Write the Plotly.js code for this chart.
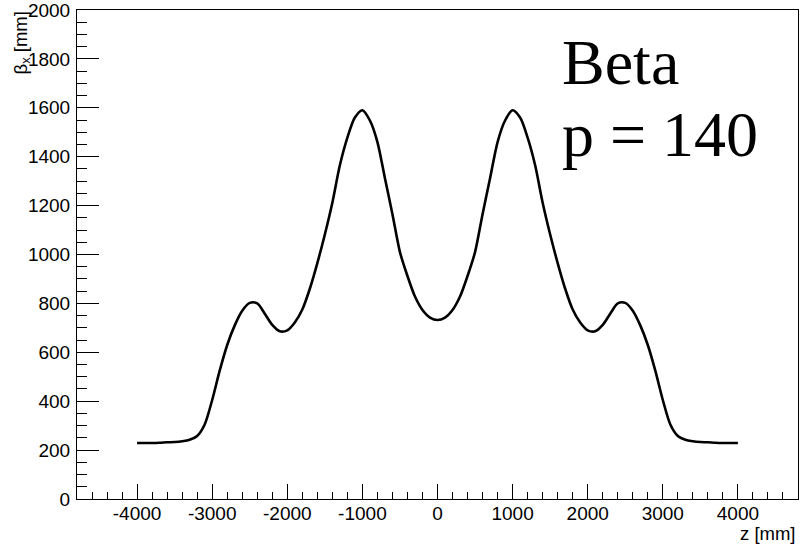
<!DOCTYPE html>
<html>
<head>
<meta charset="utf-8">
<script src="https://cdn.plot.ly/plotly-3.0.1.min.js"></script>
<style>html,body{margin:0;padding:0;background:#fff;}#chart{width:802px;height:546px;}</style>
</head>
<body>
<div id="chart"></div>
<script>
// z positions [mm]
const zValues = [
  -4000,-3900,-3800,-3700,-3600,-3500,-3400,-3300,-3200,-3100,
  -3000,-2900,-2800,-2700,-2600,-2500,-2400,-2300,-2200,-2100,
  -2000,-1900,-1800,-1700,-1600,-1500,-1400,-1300,-1200,-1100,
  -1000,-900,-800,-700,-600,-500,-400,-300,-200,-100,
  0,
  100,200,300,400,500,600,700,800,900,1000,
  1100,1200,1300,1400,1500,1600,1700,1800,1900,2000,
  2100,2200,2300,2400,2500,2600,2700,2800,2900,3000,
  3100,3200,3300,3400,3500,3600,3700,3800,3900,4000
];
// beta_x [mm]
const betaValues = [
  229,229,229,230,232,233,236,242,258,305,
  405,525,630,710,770,802,800,758,712,686,
  690,722,775,860,965,1082,1212,1365,1478,1560,
  1590,1548,1460,1312,1165,1010,912,828,773,742,
  732,
  742,773,828,912,1010,1165,1312,1460,1548,1590,
  1560,1478,1365,1212,1082,965,860,775,722,690,
  686,712,758,800,802,770,710,630,525,405,
  305,258,242,236,233,232,230,229,229,229
];
const xTickVals = [-4000,-3000,-2000,-1000,0,1000,2000,3000,4000];
const yTickVals = [0,200,400,600,800,1000,1200,1400,1600,1800,2000];

const trace = {
  x: zValues, y: betaValues, type: 'scatter', mode: 'lines',
  line: {color: '#000', width: 2.6, shape: 'spline', smoothing: 0.8},
  hoverinfo: 'none'
};

const axisFont = {family: 'Liberation Sans, Arial, sans-serif', size: 19, color: '#000'};

const layout = {
  width: 802, height: 546,
  margin: {l: 77, r: 4, t: 10, b: 47},
  paper_bgcolor: '#fff', plot_bgcolor: '#fff',
  showlegend: false,
  xaxis: {
    range: [-4800, 4800], tickmode: 'array', tickvals: xTickVals,
    ticktext: xTickVals.map(String),
    ticks: 'inside', ticklen: 15, tickwidth: 1, tickcolor: '#000',
    minor: {dtick: 200, tick0: 0, ticks: 'inside', ticklen: 7, tickwidth: 1, tickcolor: '#000'},
    showline: true, linecolor: '#000', linewidth: 1, mirror: true,
    showgrid: false, zeroline: false, tickfont: axisFont, ticklabelstandoff: -3,
    ticklabeloverflow: 'allow'
  },
  yaxis: {
    range: [0, 2000], tickmode: 'array', tickvals: yTickVals,
    ticktext: yTickVals.map(String),
    ticks: 'inside', ticklen: 22, tickwidth: 1, tickcolor: '#000',
    minor: {dtick: 50, tick0: 0, ticks: 'inside', ticklen: 10, tickwidth: 1, tickcolor: '#000'},
    showline: true, linecolor: '#000', linewidth: 1, mirror: true,
    showgrid: false, zeroline: false, tickfont: axisFont, ticklabelstandoff: 2,
    ticklabeloverflow: 'allow'
  },
  annotations: [
    {text: 'β<sub>x</sub> [mm]', xref: 'paper', yref: 'paper',
     x: (21 - 77) / 721, y: 1.0, xanchor: 'center', yanchor: 'top', textangle: -90,
     showarrow: false, font: {family: 'Liberation Sans, Arial, sans-serif', size: 18.5, color: '#000'}},
    {text: 'z [mm]', xref: 'paper', yref: 'paper',
     x: 1.0, y: -(546 - 499) / 489, xanchor: 'right', yanchor: 'bottom',
     showarrow: false, font: {family: 'Liberation Sans, Arial, sans-serif', size: 18.5, color: '#000'}},
    {text: 'Beta', xref: 'paper', yref: 'paper',
     x: (560 - 77) / 721, y: (499 - 62) / 489, xanchor: 'left', yanchor: 'middle',
     showarrow: false, font: {family: 'Liberation Serif, Times New Roman, serif', size: 64, color: '#000'}},
    {text: 'p = 140', xref: 'paper', yref: 'paper',
     x: (560 - 77) / 721, y: (499 - 134) / 489, xanchor: 'left', yanchor: 'middle',
     showarrow: false, font: {family: 'Liberation Serif, Times New Roman, serif', size: 64, color: '#000'}}
  ]
};

Plotly.newPlot('chart', [trace], layout, {staticPlot: true, displayModeBar: false});
</script>
</body>
</html>
